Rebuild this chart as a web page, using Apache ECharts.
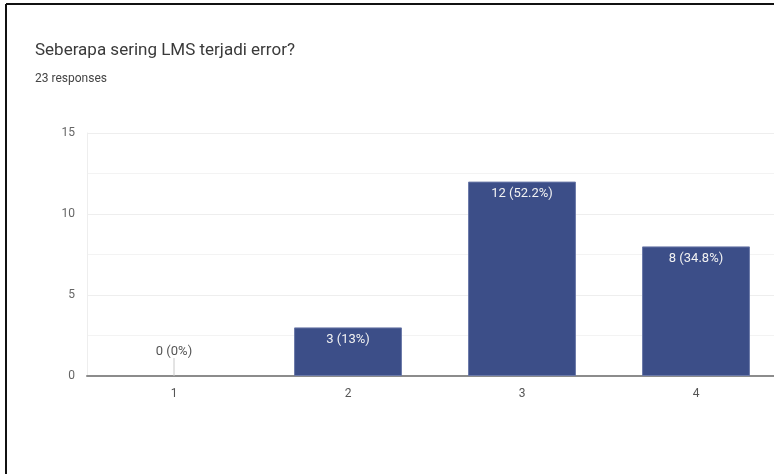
<!DOCTYPE html>
<html>
<head>
<meta charset="utf-8">
<script src="https://cdn.jsdelivr.net/npm/echarts@6/dist/echarts.min.js"></script>
<style>
  html, body { margin: 0; padding: 0; background: #fff; overflow: hidden; width: 774px; height: 474px; }
  /* the card is wider than the window; its right part runs off-screen */
  #chart { width: 800px; height: 474px; }
</style>
</head>
<body>
<div id="chart"></div>
<script>
// Survey answers: how often the LMS runs into errors
const titleText = 'Seberapa sering LMS terjadi error?';
const subtitleText = '23 responses';
const categories = ['1', '2', '3', '4'];
const counts = [0, 3, 12, 8];
const percentLabels = ['0%', '13%', '52.2%', '34.8%'];
const yTicks = [0, 5, 10, 15];

const chart = echarts.init(document.getElementById('chart'));
const fontFamily = 'Roboto, "Liberation Sans", sans-serif';

const option = {
  backgroundColor: '#fff',
  animation: false,
  title: [
    {
      text: titleText,
      left: 35, top: 42, padding: 0,
      textStyle: { fontFamily, fontSize: 17, fontWeight: 'normal', color: '#3a3a3a' }
    },
    {
      text: subtitleText,
      left: 35, top: 73, padding: 0,
      textStyle: { fontFamily, fontSize: 12, fontWeight: 'normal', color: '#444' }
    }
  ],
  graphic: [
    // frame around the card (left and top edges)
    { type: 'line', shape: { x1: 6, y1: 4, x2: 800, y2: 4 }, style: { stroke: '#111', lineWidth: 2 } },
    { type: 'line', shape: { x1: 6, y1: 4, x2: 6, y2: 474 }, style: { stroke: '#111', lineWidth: 2 } }
  ],
  grid: { left: 87, top: 133, bottom: 98, width: 696, containLabel: false },
  xAxis: {
    type: 'category',
    data: categories,
    axisLine: { show: true, lineStyle: { color: '#8c8c8c', width: 2 } },
    axisTick: { show: false },
    axisLabel: { color: '#555', fontFamily, fontSize: 12, margin: 12 }
  },
  yAxis: {
    type: 'value',
    min: yTicks[0],
    max: yTicks[yTicks.length - 1],
    interval: 5,
    axisLine: { show: true, lineStyle: { color: '#eeeeee', width: 1 } },
    axisTick: { show: false },
    axisLabel: { color: '#666', fontFamily, fontSize: 12, margin: 12 },
    splitLine: { lineStyle: { color: '#eeeeee', width: 1 } },
    minorTick: { show: false, splitNumber: 2 },
    minorSplitLine: { show: true, lineStyle: { color: '#f3f3f3', width: 1 } }
  },
  series: [
    {
      type: 'bar',
      data: counts.map(v => ({ value: v, itemStyle: { borderWidth: v > 0 ? 1 : 0 } })),
      barWidth: '62%',
      itemStyle: { color: '#3c4e88', borderColor: '#6b79a8', borderWidth: 1 },
      label: {
        show: true,
        position: 'insideTop',
        distance: 6,
        color: '#f2f2f2',
        fontFamily,
        fontSize: 13,
        formatter: p => p.value > 0 ? p.value + ' (' + percentLabels[p.dataIndex] + ')' : ''
      }
    },
    {
      // zero-count answers: a thin stem on the axis with the label above it
      type: 'custom',
      data: counts.map((v, i) => [i, v]),
      renderItem: (params, api) => {
        if (api.value(1) !== 0) return null;
        const base = api.coord([api.value(0), 0]);
        return {
          type: 'group',
          children: [
            { type: 'line', shape: { x1: base[0], y1: base[1], x2: base[0], y2: base[1] - 18 },
              style: { stroke: '#c8c8c8', lineWidth: 1 } },
            { type: 'text', x: base[0], y: base[1] - 24,
              style: { text: api.value(1) + ' (' + percentLabels[params.dataIndex] + ')',
                       fill: '#555', font: '13px ' + fontFamily, align: 'center', verticalAlign: 'middle' } }
          ]
        };
      },
      z: 5
    }
  ]
};

chart.setOption(option);
</script>
</body>
</html>
